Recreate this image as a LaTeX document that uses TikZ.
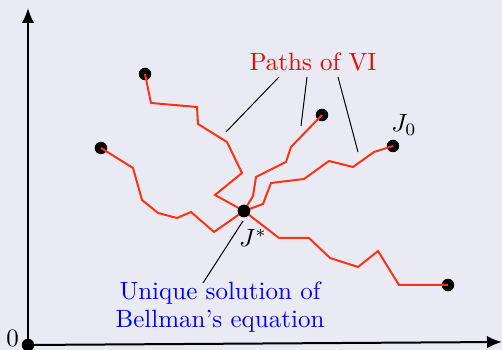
\documentclass[tikz,border=0pt]{standalone}
\usetikzlibrary{arrows.meta}
\definecolor{bgc}{RGB}{234,234,244}
\definecolor{pathred}{RGB}{255,51,17}
\begin{document}
\begin{tikzpicture}[x=0.4pt,y=-0.4pt,
  axis/.style={line width=0.8pt,-{Latex[length=6pt,width=5pt]}},
  vipath/.style={pathred,line width=0.8pt,line join=miter},
  dotc/.style={circle,fill=black,inner sep=0pt,minimum size=5pt},
  annot/.style={black,line width=0.4pt},
  lab/.style={inner sep=0pt}]
\fill[bgc] (0,0) rectangle (502,350);
\useasboundingbox (0,0) rectangle (502,350);
% axes
\node[dotc] (o) at (28,345) {};
\coordinate (ytip) at (28,8);
\coordinate (xtip) at (502,342);
\draw[axis] (o.center) -- (ytip);
\draw[axis] (o.center) -- (xtip);
\node[lab] (zero) at (12.5,338) {$0$};
% J*
\node[dotc] (js) at (244,211) {};
% start dots
\node[dotc] (a) at (145,74) {};
\node[dotc] (b) at (101,148) {};
\node[dotc] (c) at (322,115) {};
\node[dotc] (j0) at (393,146) {};
\node[dotc] (e) at (448,285) {};
% paths
\draw[vipath] (a.center) -- (151,103) -- (197,107) -- (198,124) -- (227,142) -- (242,173) -- (215,195) -- (js.center);
\draw[vipath] (b.center) -- (133,168) -- (142,200) -- (158,213) -- (177,218) -- (191,212) -- (214,232) -- (js.center);
\draw[vipath] (c.center) -- (291,147) -- (286,162) -- (256,177) -- (253,196) -- (js.center);
\draw[vipath] (j0.center) -- (374,152) -- (353,167) -- (329,161) -- (304,179) -- (271,183) -- (263,204) -- (js.center);
\draw[vipath] (e.center) -- (399,285) -- (378,251) -- (358,267) -- (330,258) -- (309,238) -- (279,238) -- (js.center);
\node[dotc] at (js) {};
% labels
\node[lab] (j0l) at (404,125) {$J_0$};
\node[lab] (jsl) at (253,238) {$J^*$};
\node[lab,text=red] (pvi) at (313,62) {Paths of VI};
\coordinate (p1) at (226,132);
\coordinate (p2) at (301,126);
\coordinate (p3) at (358,152);
\draw[annot] (279,77) -- (p1);
\draw[annot] (307,77) -- (p2);
\draw[annot] (338,77) -- (p3);
\node[lab,text=blue,align=center] (uniq) at (220,307) {Unique solution of\\[-1pt]Bellman's equation};
\coordinate (u1) at (203,283);
\draw[annot] (243,221) -- (u1);
\end{tikzpicture}
\end{document}
